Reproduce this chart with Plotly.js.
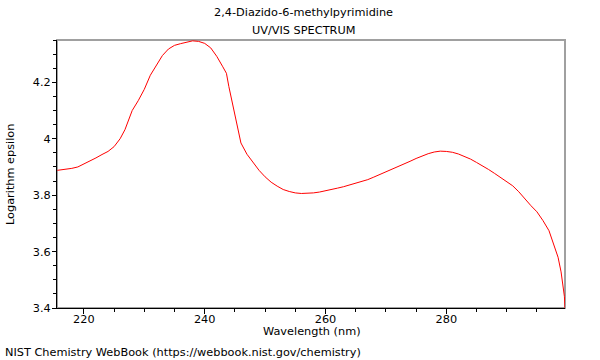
<!DOCTYPE html>
<html>
<head>
<meta charset="utf-8">
<script src="https://cdn.plot.ly/plotly-3.0.1.min.js"></script>
<style>html,body{margin:0;padding:0;background:#fff}#chart{width:600px;height:360px}</style>
</head>
<body>
<div id="chart"></div>
<script>
const wavelength = [215.6,216,217,218,219,220,221,222,223,224,225,226,226.8,227.3,228,229,230,231,232,233,234,235,236,237,238,239,240,241,242,243,243.6,244,244.5,245,245.5,246,247,248,249,250,251,252,253,254,255,256,257,258,259,260,261,262,263,264,265,266,267,268,269,270,271,272,273,274,275,276,277,278,279,280,281,282,283,284,285,286,287,288,289,290,291,292,293,294,295,296,297,298,298.5,299,299.3,299.55,299.65];
const logEpsilon = [3.888,3.889,3.892,3.895,3.900,3.910,3.920,3.932,3.944,3.955,3.972,4.000,4.032,4.060,4.100,4.135,4.175,4.225,4.262,4.295,4.318,4.331,4.337,4.342,4.347,4.345,4.338,4.322,4.292,4.255,4.232,4.185,4.135,4.080,4.030,3.985,3.945,3.915,3.888,3.865,3.846,3.832,3.820,3.813,3.808,3.806,3.806,3.808,3.811,3.815,3.820,3.825,3.830,3.836,3.842,3.848,3.855,3.864,3.873,3.882,3.891,3.900,3.910,3.920,3.930,3.939,3.947,3.953,3.956,3.955,3.952,3.946,3.938,3.928,3.916,3.905,3.891,3.877,3.863,3.848,3.833,3.812,3.786,3.763,3.741,3.710,3.674,3.615,3.580,3.528,3.476,3.441,3.400];
const titleLine1 = "2,4-Diazido-6-methylpyrimidine";
const titleLine2 = "UV/VIS SPECTRUM";
const xTitle = "Wavelength (nm)";
const yTitle = "Logarithm epsilon";
const footer = "NIST Chemistry WebBook (https://webbook.nist.gov/chemistry)";

const font = {family: "DejaVu Sans, sans-serif", size: 11.3, color: "#000"};
const W = 508, H = 268, L = 57, T = 40;
const px = x => (x - L) / W;
const py = y => (T + H - y) / H;
const data = [{
  x: wavelength, y: logEpsilon, type: "scatter", mode: "lines",
  line: {color: "#ff0000", width: 1}, hoverinfo: "skip"
}];
const ann = (text, x, y, extra) => Object.assign({text: text, xref: "paper", yref: "paper", x: px(x), y: py(y),
  xanchor: "center", yanchor: "middle", showarrow: false, font: font}, extra || {});
const layout = {
  width: 600, height: 360,
  margin: {l: L, r: 600 - L - W, t: T, b: 360 - T - H},
  paper_bgcolor: "#fff", plot_bgcolor: "#fff",
  font: font,
  showlegend: false,
  xaxis: {
    range: [215.55, 299.65], showgrid: false, zeroline: false,
    showline: true, linecolor: "#000", linewidth: 1,
    ticks: "outside", ticklen: 5, tickcolor: "#000", tick0: 220, dtick: 20,
    ticklabelstandoff: -5,
    minor: {ticks: "outside", ticklen: 3, dtick: 5, tick0: 220, tickcolor: "#000", showgrid: false},
    tickfont: font
  },
  yaxis: {
    range: [3.4, 4.35], showgrid: false, zeroline: false,
    showline: true, linecolor: "#000", linewidth: 1,
    ticks: "outside", ticklen: 4, tickcolor: "#000", tick0: 3.4, dtick: 0.2,
    ticklabelstandoff: -1,
    minor: {ticks: "outside", ticklen: 3, dtick: 0.05, tick0: 3.4, tickcolor: "#000", showgrid: false},
    tickfont: font
  },
  shapes: [{type: "rect", xref: "paper", yref: "paper", x0: 0, x1: 1, y0: 0, y1: 1,
    line: {color: "#a0a0a0", width: 2}, layer: "below"}],
  annotations: [
    ann(titleLine1, 303.5, 13),
    ann(titleLine2, 303.5, 30),
    ann(xTitle, 312, 331),
    ann(yTitle, 10, 175, {textangle: -90}),
    ann(footer, 3, 352, {xanchor: "left"})
  ]
};
Plotly.newPlot("chart", data, layout, {displayModeBar: false, staticPlot: true});
</script>
</body>
</html>
